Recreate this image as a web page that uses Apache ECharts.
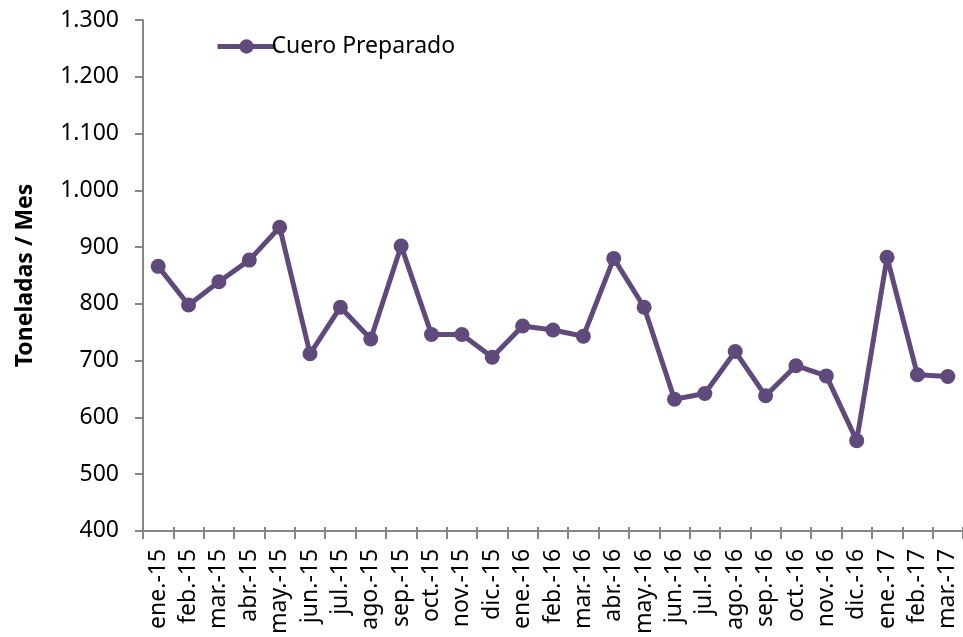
<!DOCTYPE html>
<html>
<head>
<meta charset="utf-8">
<script src="https://cdn.jsdelivr.net/npm/echarts@6/dist/echarts.min.js"></script>
<style>
html,body{margin:0;padding:0;background:#fff;}
#chart{width:963px;height:637px;}
</style>
</head>
<body>
<div id="chart"></div>
<script>
const categories = ["ene.-15","feb.-15","mar.-15","abr.-15","may.-15","jun.-15","jul.-15","ago.-15","sep.-15","oct.-15","nov.-15","dic.-15",
  "ene.-16","feb.-16","mar.-16","abr.-16","may.-16","jun.-16","jul.-16","ago.-16","sep.-16","oct.-16","nov.-16","dic.-16",
  "ene.-17","feb.-17","mar.-17"];
const cueroPreparado = [866,798,839,877,935,712,794,738,902,746,746,706,
  761,754,743,880,794,632,642,716,638,691,673,559,
  882,675,672];
const seriesName = "Cuero Preparado";
const yAxisTitle = "Toneladas / Mes";
const yMin = 400, yMax = 1300, yStep = 100;

const chart = echarts.init(document.getElementById('chart'), null, {renderer:'canvas'});
const font = "'Noto Sans', sans-serif";
const purple = '#604A7B';
const axisGray = '#868686';

chart.setOption({
  animation:false,
  backgroundColor:'#fff',
  textStyle:{fontFamily:font},
  grid:{left:143, top:20, bottom:106, right:-7, containLabel:false},
  legend:{
    left:210, top:30,
    itemWidth:58, itemHeight:18, itemGap:10,
    lineStyle:{width:5},
    textStyle:{fontFamily:font, fontSize:23, color:'#000', padding:[0,0,0,-9]},
    data:[seriesName]
  },
  xAxis:[{
    type:'category',
    data:categories,
    boundaryGap:true,
    axisLine:{lineStyle:{color:axisGray, width:2}},
    axisTick:{show:true, interval:0, length:8, lineStyle:{color:axisGray, width:2}},
    axisLabel:{interval:0, rotate:90, margin:18, fontFamily:font, fontSize:23, color:'#000'},
    splitLine:{show:false}
  },{
    type:'category',
    data:categories,
    position:'bottom',
    boundaryGap:true,
    axisLine:{show:false},
    axisTick:{show:true, inside:true, interval:0, length:4, lineStyle:{color:axisGray, width:2}},
    axisLabel:{show:false},
    splitLine:{show:false}
  }],
  yAxis:{
    type:'value',
    min:yMin, max:yMax, interval:yStep,
    name:yAxisTitle,
    nameLocation:'middle',
    nameRotate:90,
    nameGap:106,
    nameTextStyle:{fontFamily:font, fontSize:23, fontWeight:'bold', color:'#000'},
    axisLine:{show:true, lineStyle:{color:axisGray, width:2}},
    axisTick:{show:true, length:8, lineStyle:{color:axisGray, width:2}},
    axisLabel:{margin:24, fontFamily:font, fontSize:23, color:'#000',
      formatter:v => v >= 1000 ? Math.floor(v/1000) + '.' + String(v%1000).padStart(3,'0') : String(v)},
    splitLine:{show:false}
  },
  series:[{
    name:seriesName,
    type:'line',
    data:cueroPreparado,
    symbol:'circle',
    symbolSize:15,
    lineStyle:{color:purple, width:5},
    itemStyle:{color:purple},
    emphasis:{disabled:true}
  }]
});
</script>
</body>
</html>
